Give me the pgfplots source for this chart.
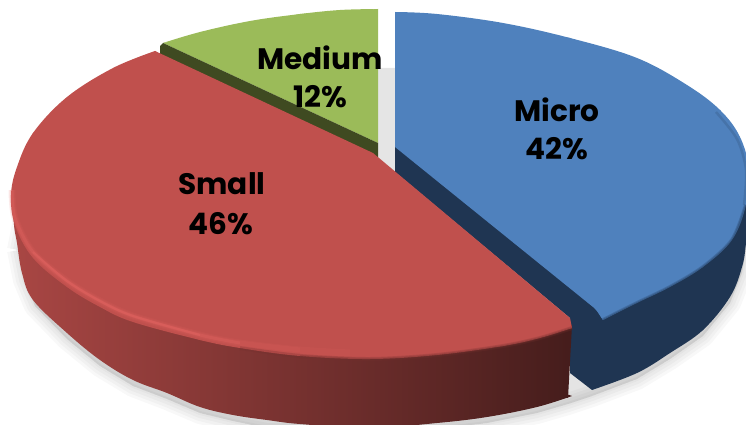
\documentclass[border=0pt]{standalone}
\usepackage{fontspec}
\setmainfont{Poppins}
\usepackage{pgfplots}
\pgfplotsset{compat=1.18}
\definecolor{micro}{HTML}{4F81BD}
\definecolor{microdark}{HTML}{1F3552}
\definecolor{small}{HTML}{C0504D}
\definecolor{smalllight}{HTML}{E46562}
\definecolor{medium}{HTML}{9BBB59}
\definecolor{mediumdark}{HTML}{3F4A21}
\newcommand{\lab}[3]{\node[font=\fontsize{29.6}{29.6}\selectfont\bfseries,text=black,inner sep=0pt] at (axis cs:#1,#2) {#3};}
\begin{document}
\begin{tikzpicture}
\useasboundingbox (0,0) rectangle (746pt,425pt);
\begin{axis}[
  hide axis, scale only axis, width=746pt, height=425pt,
  xmin=0, xmax=746, ymin=0, ymax=425, y dir=reverse,
  every axis plot/.append style={line join=round},
  wallshade/.style={draw=none, left color=small!88!black, middle color=small!65!black, right color=small!36!black}]
% soft shadow
\pgfplotsinvokeforeach{22,16,10,4}{
\addplot[sharp plot, fill=black, draw=black, line width=#1pt, opacity=0.028] coordinates {
(18,250)(24,280)(35,306)(67,339)(100,366)(133,386)(167,399)(200,413)(233,421)(267,428)(437,429)(487,423)(537,413)(568,404)(592,396)(637,379)(670,359)(703,336)(730,303)(742,273)(746,249)(746,160)(400,160)(24,220)(18,250)};
}
\addplot[sharp plot, fill=black!10, draw=none] coordinates {(378,68)(395,68)(395,172)(378,172)(378,68)};
% medium
\addplot[smooth, tension=0.6, fill=medium, draw=none] coordinates {(163,43)(200,32)(250,21)(300,14)(340,10)(378,9)};
\addplot[sharp plot, fill=medium, draw=none] coordinates {(163,43)(300,14)(378,9)(378,143)(163,43)};
\addplot[sharp plot, fill=mediumdark, draw=none] coordinates {(163,43)(378,143)(378,158)(370,162)(160,56)(160,46)(163,43)};
% micro
\addplot[sharp plot, fill=microdark, draw=none] coordinates {(395,147)(395,172)(570,318)(570,373)(592,390)(703,330)(750,200)(395,147)};
\addplot[smooth, tension=0.6, fill=microdark, draw=none] coordinates {(592,390)(637,373)(670,353)(703,330)(730,297)(742,267)(746,243)(750,200)};
\addplot[smooth, tension=0.6, fill=micro, draw=none] coordinates {(395,12)(437,14)(503,23)(570,38)(637,58)(687,85)(720,110)(740,137)(749,170)(746,205)(732,240)(703,267)(670,287)(637,303)(603,320)};
\addplot[sharp plot, fill=micro, draw=none] coordinates {(395,12)(570,38)(720,110)(749,170)(703,267)(603,320)(598,312)(593,307)(395,147)(395,12)};
\addplot[smooth, draw=microdark, line width=4pt, opacity=0.25] coordinates {(746,205)(732,240)(703,267)(670,287)(637,303)(603,320)};
\addplot[smooth, draw=microdark, line width=2pt, opacity=0.3] coordinates {(746,205)(732,240)(703,267)(670,287)(637,303)(603,320)};
\addplot[smooth, draw=microdark, line width=2.5pt, opacity=0.18] coordinates {(716,112)(737,139)(746,170)(744,205)};
% small
\addplot[smooth, tension=0.6, wallshade] coordinates {(12,190)(14,225)(17,243)(22,273)(33,300)(67,333)(100,360)(133,380)(167,393)(200,407)(233,415)(267,420)(300,424)(370,428)(437,423)(487,417)(537,407)(572,396)};
\addplot[sharp plot, wallshade] coordinates {(12,190)(572,325)(568,398)(12,190)};
\addplot[smooth, tension=0.6, fill=small, draw=none] coordinates {(155,51)(113,68)(67,97)(33,133)(17,167)(11,195)(15,225)(33,258)(67,287)(100,307)(133,322)(200,340)(240,348)(300,356)(370,359)(437,355)(503,346)(540,338)(572,328)};
\addplot[sharp plot, fill=small, draw=none] coordinates {(155,51)(33,133)(11,195)(67,287)(200,340)(370,359)(503,346)(572,328)(570,318)(373,153)(155,51)};
\addplot[smooth, draw=small!60!black, line width=4pt, opacity=0.25] coordinates {(572,328)(540,338)(503,346)(437,355)(370,359)(300,356)(240,348)};
\addplot[smooth, draw=small!60!black, line width=2pt, opacity=0.3] coordinates {(572,328)(540,338)(503,346)(437,355)(370,359)(300,356)};
\addplot[smooth, draw=smalllight, line width=7pt, opacity=0.12] coordinates {(12,190)(15,218)(33,252)(67,281)(100,301)(133,316)(200,335)(240,343)(300,350)(350,353)};
\addplot[smooth, draw=smalllight, line width=5pt, opacity=0.14] coordinates {(12,190)(15,218)(33,252)(67,281)(100,301)(133,316)(200,335)(240,343)(300,350)};
\addplot[smooth, draw=smalllight, line width=3pt, opacity=0.3] coordinates {(12,190)(15,218)(33,252)(67,281)(100,301)(133,316)(200,335)(240,343)};
\addplot[smooth, draw=smalllight, line width=2pt, opacity=0.4] coordinates {(33,252)(67,281)(100,301)(133,316)(200,335)};
% labels
\lab{557}{110}{Micro}
\lab{557}{149}{42\%}
\lab{222}{184}{Small}
\lab{221}{224}{46\%}
\lab{320}{58}{Medium}
\lab{320}{97}{12\%}
\end{axis}
\end{tikzpicture}
\end{document}
